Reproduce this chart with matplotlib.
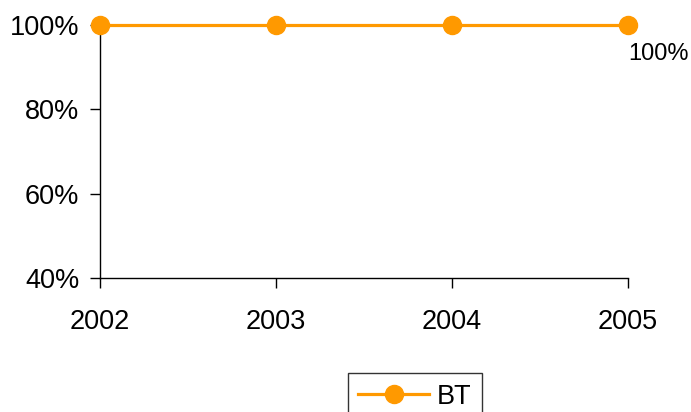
import matplotlib.pyplot as plt
from matplotlib.ticker import PercentFormatter

anos = [2002, 2003, 2004, 2005]
bt = [100, 100, 100, 100]
serie = "BT"

plt.rcParams['font.family'] = ['Liberation Sans', 'DejaVu Sans']

fig = plt.figure(figsize=(6.91, 4.12), dpi=100)
ax = fig.add_axes([100 / 691, 1 - 278 / 412, 528 / 691, 253 / 412])

laranja = '#FF9900'
ax.plot(anos, bt, color=laranja, linewidth=2.3, marker='o', markersize=13,
        label=serie, clip_on=False, zorder=5)

ax.annotate(f"{bt[-1]}%", xy=(anos[-1], bt[-1]), xytext=(0, -18),
            textcoords='offset pixels', ha='left', va='top', fontsize=17)

ax.set_xlim(anos[0], anos[-1])
ax.set_ylim(40, 100)
ax.set_xticks(anos)
ax.set_yticks([40, 60, 80, 100])
ax.yaxis.set_major_formatter(PercentFormatter(decimals=0))

for lado in ['top', 'right']:
    ax.spines[lado].set_visible(False)
for lado in ['left', 'bottom']:
    ax.spines[lado].set_linewidth(1)

ax.tick_params(axis='x', length=7, width=1, pad=15, labelsize=19.5)
ax.tick_params(axis='y', length=7, width=1, pad=8, labelsize=19.5)

leg = fig.legend(loc='upper center', bbox_to_anchor=(415 / 691, 1 - 373 / 412),
                 fontsize=19.5, frameon=True, fancybox=False, edgecolor='black',
                 handlelength=2.6, borderpad=0.4, handletextpad=0.3,
                 borderaxespad=0)
leg.get_frame().set_linewidth(1)

fig.savefig("out.png", dpi=100)
